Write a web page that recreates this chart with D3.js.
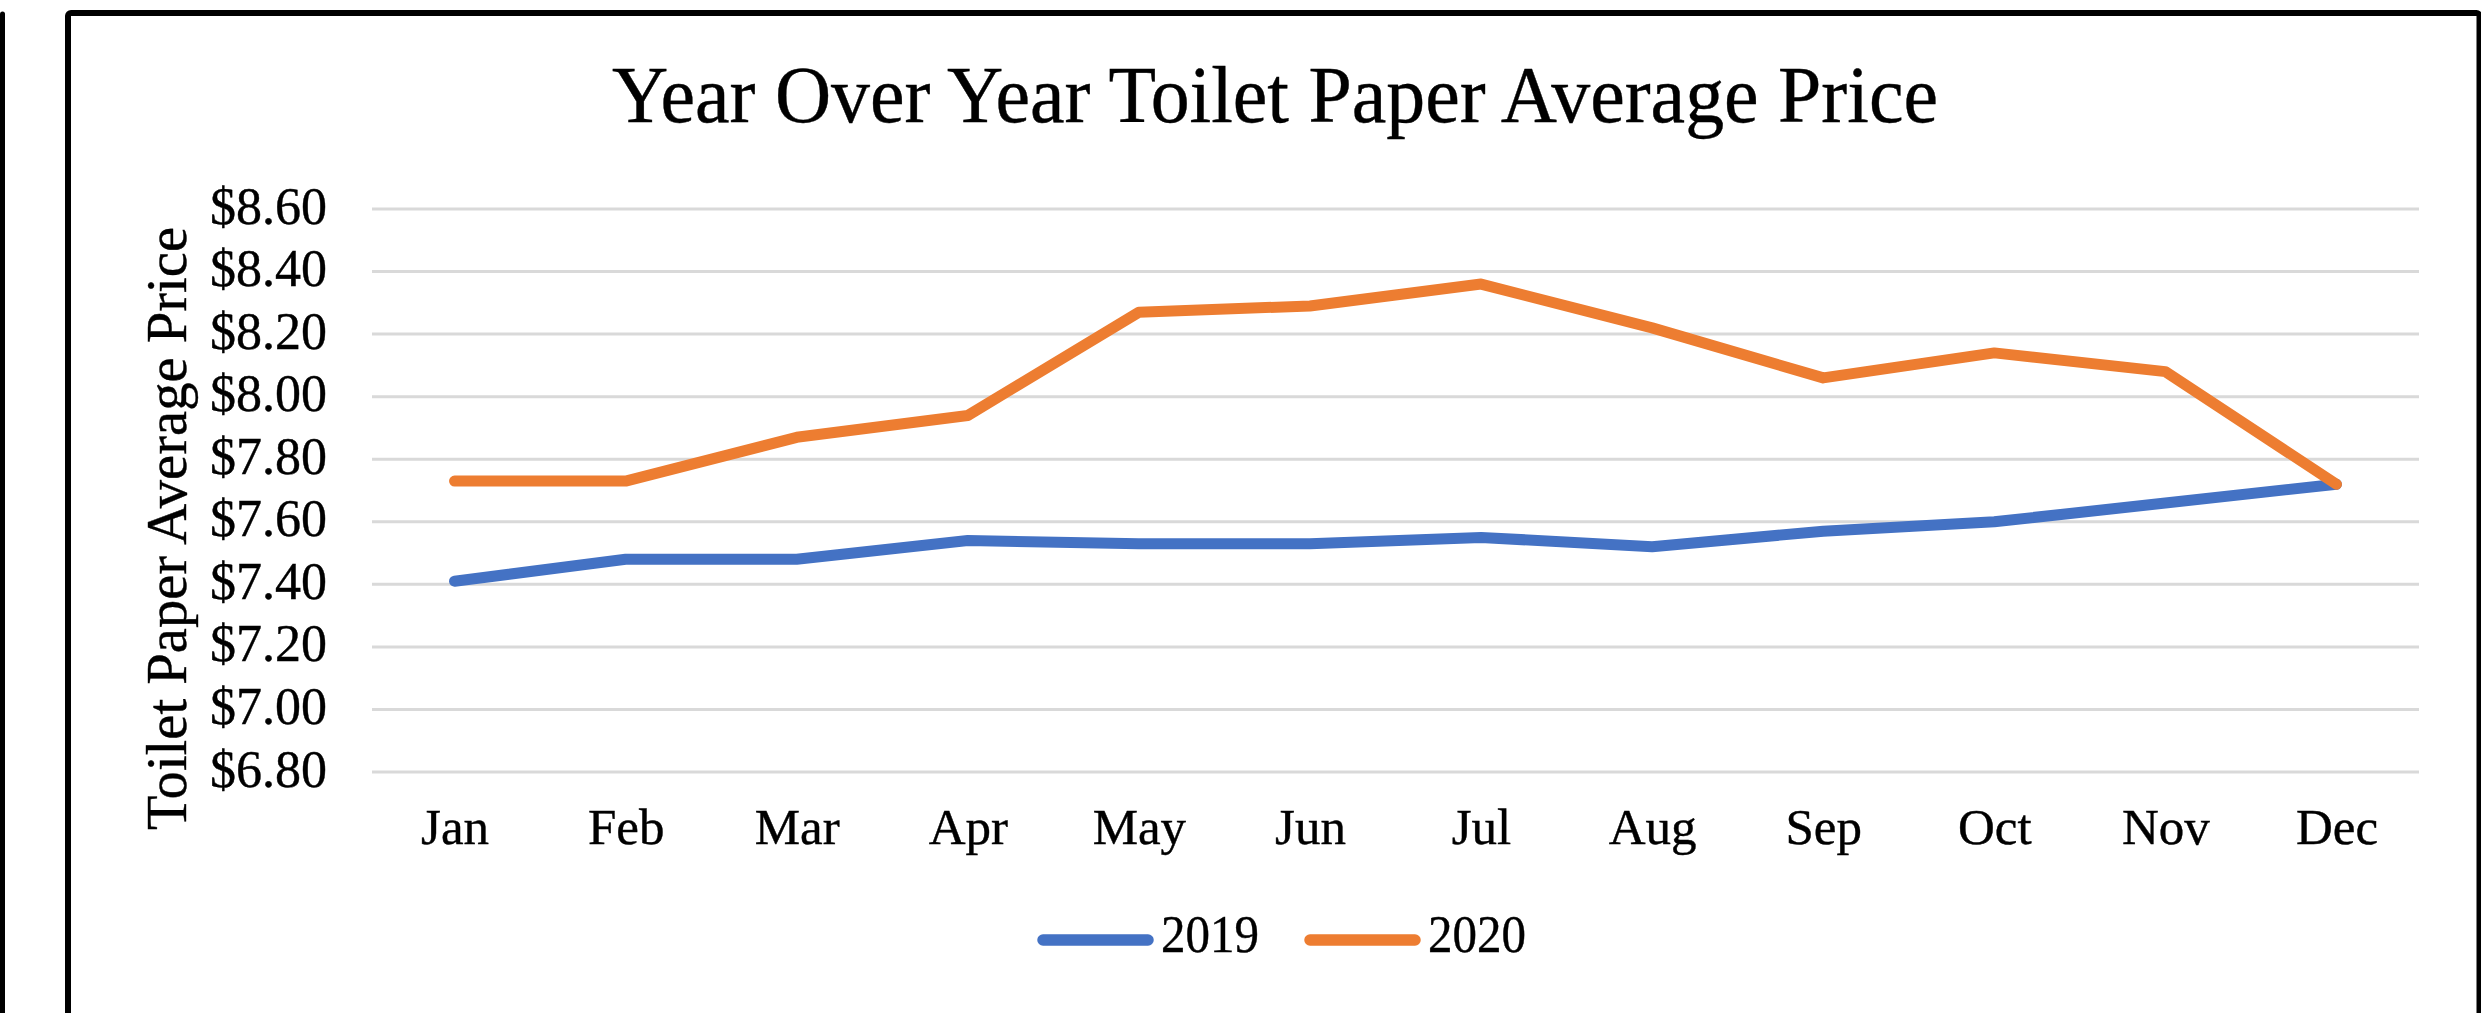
<!DOCTYPE html>
<html>
<head>
<meta charset="utf-8">
<script src="https://cdn.jsdelivr.net/npm/d3@7"></script>
<style>
  body { margin: 0; background: #fff; }
  svg { display: block; }
  text { font-family: "Liberation Serif", "Times New Roman", serif; fill: #000; stroke: #000; stroke-width: 0.4; }
</style>
</head>
<body>
<svg id="chart" width="2481" height="1013"></svg>
<script>
// ---------- data ----------
const months = ["Jan","Feb","Mar","Apr","May","Jun","Jul","Aug","Sep","Oct","Nov","Dec"];
const series2019 = [7.41, 7.48, 7.48, 7.54, 7.53, 7.53, 7.55, 7.52, 7.57, 7.60, 7.66, 7.72];
const series2020 = [7.73, 7.73, 7.87, 7.94, 8.27, 8.29, 8.36, 8.22, 8.06, 8.14, 8.08, 7.72];
const seriesNames = ["2019", "2020"];
const seriesColors = ["#4472C4", "#ED7D31"];
const yTicks = [6.8, 7.0, 7.2, 7.4, 7.6, 7.8, 8.0, 8.2, 8.4, 8.6];
const titleText = "Year Over Year Toilet Paper Average Price";
const yTitleText = "Toilet Paper Average Price";

const seriesList = [series2019, series2020];

// ---------- layout ----------
const svg = d3.select("#chart");
svg.append("rect").attr("width", 2481).attr("height", 1013).attr("fill", "#fff");

// frames
svg.append("line").attr("x1", 2.5).attr("x2", 2.5).attr("y1", 14).attr("y2", 1100)
  .attr("stroke", "#000").attr("stroke-width", 5).attr("stroke-linecap", "round");
svg.append("rect").attr("x", 68).attr("y", 13).attr("width", 2411.5).attr("height", 1100)
  .attr("rx", 3).attr("fill", "none").attr("stroke", "#000").attr("stroke-width", 6);

const x = d3.scalePoint().domain(months).range([369, 2422]).padding(0.5);
const y = d3.scaleLinear().domain([6.8, 8.6]).range([772, 209]);

// gridlines
svg.append("g").selectAll("line").data(yTicks).join("line")
  .attr("x1", 372).attr("x2", 2419)
  .attr("y1", d => y(d)).attr("y2", d => y(d))
  .attr("stroke", "#d9d9d9").attr("stroke-width", 3);

// y axis
const yAxis = svg.append("g").attr("transform", "translate(369,0)")
  .call(d3.axisLeft(y).tickValues(yTicks).tickSize(0).tickPadding(42)
    .tickFormat(d => "$" + d.toFixed(2)));
yAxis.select(".domain").remove();
yAxis.selectAll("text").attr("font-size", 52).attr("dy", "0.27em")
  .attr("font-family", "Liberation Serif, Times New Roman, serif").attr("fill", "#000");

// x axis
const xAxis = svg.append("g").attr("transform", "translate(0,772)")
  .call(d3.axisBottom(x).tickSize(0).tickPadding(36));
xAxis.select(".domain").remove();
xAxis.selectAll("text").attr("font-size", 51)
  .attr("font-family", "Liberation Serif, Times New Roman, serif").attr("fill", "#000");

// lines
const line = d3.line().x((d, i) => x(months[i])).y(d => y(d));
svg.append("g").selectAll("path").data(seriesList).join("path")
  .attr("d", d => line(d))
  .attr("fill", "none")
  .attr("stroke", (d, i) => seriesColors[i])
  .attr("stroke-width", 11)
  .attr("stroke-linejoin", "round")
  .attr("stroke-linecap", "round");

// title
svg.append("text").attr("x", 1275).attr("y", 122).attr("text-anchor", "middle")
  .attr("font-size", 81).attr("textLength", 1326).attr("lengthAdjust", "spacingAndGlyphs")
  .text(titleText);

// y title
svg.append("text").attr("transform", "translate(186,528.5) rotate(-90)")
  .attr("text-anchor", "middle").attr("font-size", 57)
  .attr("textLength", 603).attr("lengthAdjust", "spacingAndGlyphs")
  .text(yTitleText);

// legend
const legendX = [1043, 1310];
const legend = svg.append("g").selectAll("g").data(seriesNames).join("g")
  .attr("transform", (d, i) => `translate(${legendX[i]},940)`);
legend.append("line").attr("x1", 0).attr("x2", 105).attr("y1", 0).attr("y2", 0)
  .attr("stroke", (d, i) => seriesColors[i]).attr("stroke-width", 11.5).attr("stroke-linecap", "round");
legend.append("text").attr("x", 118).attr("y", 12).attr("font-size", 52)
  .attr("textLength", 98).attr("lengthAdjust", "spacingAndGlyphs").text(d => d);
</script>
</body>
</html>
